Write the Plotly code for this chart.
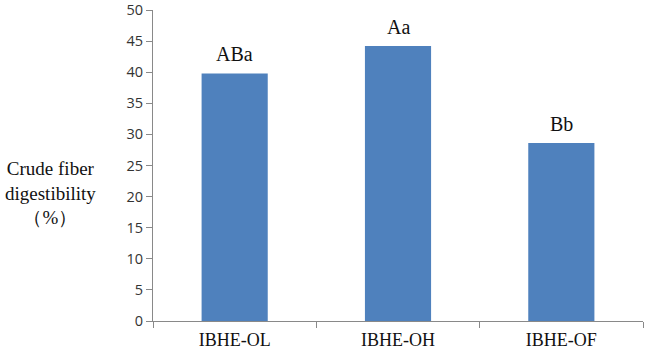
import plotly.graph_objects as go

categories = ["IBHE-OL", "IBHE-OH", "IBHE-OF"]
values = [39.8, 44.2, 28.6]
labels = ["ABa", "Aa", "Bb"]
y_ticks = [0, 5, 10, 15, 20, 25, 30, 35, 40, 45, 50]

fig = go.Figure()
fig.add_trace(go.Bar(
    x=categories, y=values,
    marker=dict(color="#4F81BD", line=dict(width=0)),
    width=0.405,
))

for c, v, t in zip(categories, values, labels):
    fig.add_annotation(x=c, y=v, text=t, showarrow=False, yshift=19,
                       font=dict(family="Liberation Serif", size=20, color="#111"))

fig.add_annotation(xref="paper", yref="paper", x=0, y=0.41, xshift=-103,
                   xanchor="center", yanchor="middle", showarrow=False, align="center",
                   text="Crude fiber<br>digestibility<br>（%）",
                   font=dict(family="Liberation Serif", size=19, color="#111"))

fig.update_layout(
    width=645, height=352,
    margin=dict(l=153, r=2, t=10, b=31, autoexpand=False),
    paper_bgcolor="white", plot_bgcolor="white",
    showlegend=False,
    bargap=0.6,
)
fig.update_xaxes(
    showline=True, linecolor="#898989", linewidth=1,
    ticks="outside", tickson="boundaries", ticklen=6, tickcolor="#898989",
    tickfont=dict(family="Liberation Serif", size=18, color="#111"),
    ticklabelstandoff=2, ticklabeloverflow="allow", automargin=False,
    showgrid=False,
)
fig.update_yaxes(
    range=[0, 50], tickvals=y_ticks,
    showline=True, linecolor="#898989", linewidth=1,
    ticks="outside", ticklen=6, tickcolor="#898989",
    tickfont=dict(family="Open Sans", size=14.5, color="#333"),
    ticklabeloverflow="allow", automargin=False,
    showgrid=False, zeroline=False,
)

fig.write_html("out.html")
